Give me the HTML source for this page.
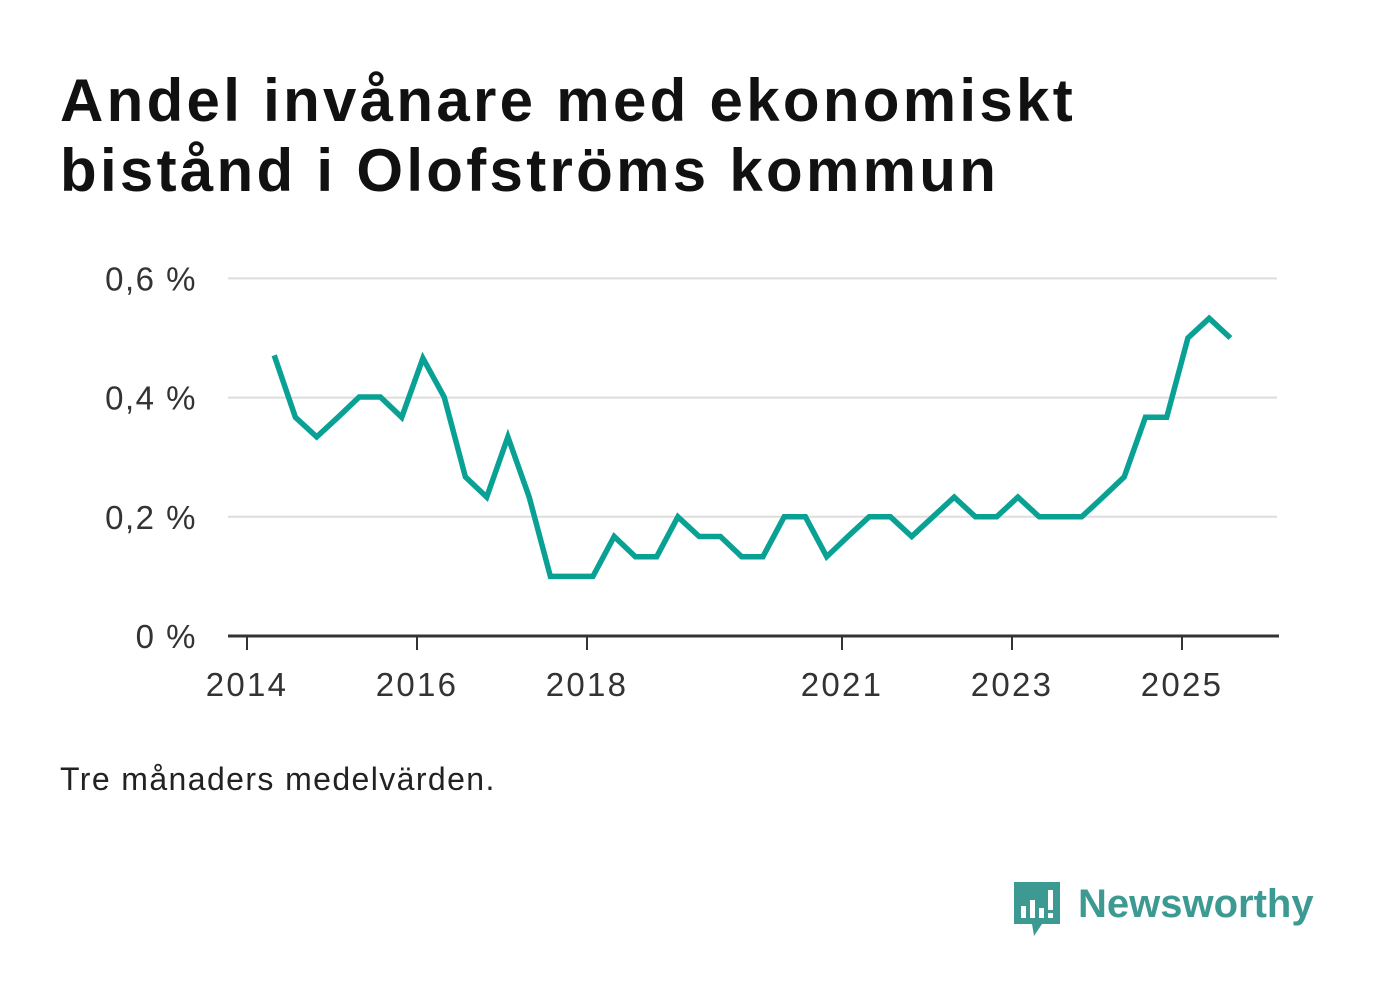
<!DOCTYPE html>
<html><head><meta charset="utf-8"><style>
body{margin:0;background:#fff;width:1382px;height:999px;overflow:hidden;font-family:"Liberation Sans",sans-serif}
h1{position:absolute;left:60px;top:66px;margin:0;font-size:60px;line-height:70px;font-weight:bold;color:#111;letter-spacing:3.3px}
.note{position:absolute;left:60px;top:761px;font-size:32px;color:#222;letter-spacing:1.4px}
</style></head><body>
<h1>Andel invånare med ekonomiskt<br>bistånd i Olofströms kommun</h1>
<svg id="chart" width="1382" height="999" style="position:absolute;left:0;top:0"></svg>
<div class="note">Tre månaders medelvärden.</div>
<div style="position:absolute;left:1012px;top:880px;width:320px;height:60px">
<svg width="60" height="60" style="position:absolute;left:0;top:0">
<path d="M2 2 H48 V44 H30 L22 56 L20 44 H2 Z" fill="#3d9a93"/>
<rect x="9" y="26" width="5" height="12" fill="#fff"/><rect x="18" y="20" width="5" height="18" fill="#fff"/><rect x="27" y="28" width="5" height="10" fill="#fff"/><rect x="36" y="10" width="5" height="20" fill="#fff"/><rect x="36" y="33" width="5" height="5" fill="#fff"/>
</svg>
<span style="position:absolute;left:66px;top:2px;font-size:40px;font-weight:bold;color:#3d9a93">Newsworthy</span>
</div>
<script>
const yTicks=[0,0.2,0.4,0.6];
const yTickLabels=["0 %","0,2 %","0,4 %","0,6 %"];
const xTicks=[2014,2016,2018,2021,2023,2025];
const startYear=2014.32;
const values=[0.471,0.367,0.334,0.367,0.401,0.401,0.367,0.466,0.401,0.267,0.233,0.334,0.233,0.1,0.1,0.1,0.167,0.133,0.133,0.2,0.167,0.167,0.133,0.133,0.2,0.2,0.133,0.167,0.2,0.2,0.167,0.2,0.233,0.2,0.2,0.233,0.2,0.2,0.2,0.233,0.267,0.367,0.367,0.5,0.533,0.5];
const svg=document.getElementById('chart');const NS='http://www.w3.org/2000/svg';
const x=t=>247+(t-2014)*85;const y=v=>636-v*596;
function mk(tag,a){const e=document.createElementNS(NS,tag);for(const k in a)e.setAttribute(k,a[k]);svg.appendChild(e);return e;}
yTicks.forEach((v,i)=>{
 if(v>0){const g=mk('line',{x1:228,x2:1277,y1:y(v),y2:y(v),stroke:'#ddd','stroke-width':2});
 
 }
 const t=mk('text',{x:197,y:y(v)+12,'text-anchor':'end','font-size':33,'letter-spacing':1.5,fill:'#333','font-family':'Liberation Sans, sans-serif'});t.textContent=yTickLabels[i];
 
 
});
const ax=mk('line',{x1:228,x2:1279,y1:636,y2:636,stroke:'#333','stroke-width':3});


xTicks.forEach(yr=>{
 const tk=mk('line',{x1:x(yr),x2:x(yr),y1:636,y2:650,stroke:'#333','stroke-width':2});
 
 
 const t=mk('text',{x:x(yr),y:696,'text-anchor':'middle','font-size':33,'letter-spacing':2.3,fill:'#333','font-family':'Liberation Sans, sans-serif'});t.textContent=yr;
 
 
});
const pts=values.map((v,i)=>x(startYear+i*0.25).toFixed(1)+','+y(v).toFixed(1)).join(' ');
const line=mk('polyline',{points:pts,fill:'none',stroke:'#0aa195','stroke-width':5.5,'stroke-linejoin':'miter'});


</script>
</body></html>
